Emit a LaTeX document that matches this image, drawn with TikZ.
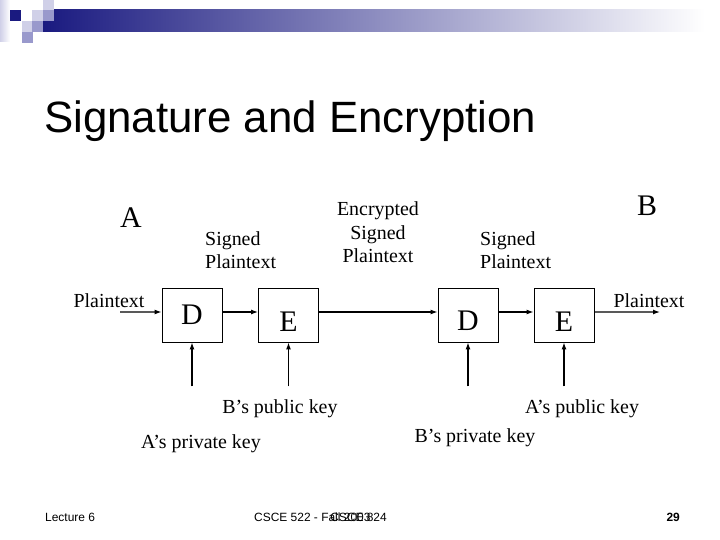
\documentclass[tikz,border=0pt]{standalone}
\usepackage{fontspec}
\setmainfont{Liberation Serif}
\setsansfont{Liberation Sans}
\usetikzlibrary{arrows.meta,positioning}
\definecolor{azulosc}{RGB}{26,26,128}
\definecolor{grismed}{RGB}{165,165,190}
\definecolor{lavmed}{RGB}{153,153,204}
\definecolor{lavcla}{RGB}{208,208,232}

\begin{document}
\begin{tikzpicture}[x=1bp,y=-1bp,
  caja/.style={draw, line width=0.8bp, minimum width=60bp, minimum height=54bp,
    inner sep=0pt, font=\fontsize{30}{30}\selectfont},
  bajo/.style={text height=32bp},
  etiq/.style={font=\fontsize{20}{23.5}\selectfont, inner sep=0pt},
  flecha/.style={line width=1.3bp, -{Latex[length=7bp,width=5bp]}},
  pie/.style={font=\sffamily\fontsize{12}{12}\selectfont, inner sep=0pt}]
\useasboundingbox (0,0) rectangle (720,540);
% Cabecera: barra degradada y cuadritos
\shade[left color=lavcla, right color=white] (0,0) rectangle (10,42);
\shade[left color=azulosc, middle color=grismed, right color=white] (43,10) rectangle (705,32);
\foreach \x/\y/\c in {43/0/lavcla, 10/10/azulosc, 32/10/lavcla, 43/10/lavmed,
                      22/21/lavcla, 32/21/lavmed, 22/32/lavmed} {
  \fill[\c] (\x,\y) rectangle ++(11,11);
}
% Titulo
\node[anchor=base west, inner sep=0pt, font=\sffamily\fontsize{44}{44}\selectfont]
  (titulo) at (44,133) {Signature and Encryption};
% Extremos A y B
\node[inner sep=0pt, font=\fontsize{30}{30}\selectfont] (ladoA) at (131,218) {A};
\node[inner sep=0pt, font=\fontsize{30}{30}\selectfont] (ladoB) at (647,206) {B};
% Cajas D / E
\node[caja]       (dA) at (192,315)   {D};
\node[caja, bajo] (eA) at (288.5,315) {E};
\node[caja, bajo] (dB) at (468,315)   {D};
\node[caja, bajo] (eB) at (564,315)   {E};
% Entrada y salida
\coordinate (entrada) at (120,312);
\coordinate (salida)  at (660,312);
\draw[flecha] (entrada) -- ([yshift=3bp]dA.west);
\draw[flecha] ([yshift=3bp]dA.east) -- ([yshift=3bp]eA.west);
\draw[flecha] ([yshift=3bp]eA.east) -- ([yshift=3bp]dB.west);
\draw[flecha] ([yshift=3bp]dB.east) -- ([yshift=3bp]eB.west);
\draw[flecha] ([yshift=3bp]eB.east) -- (salida);
% Claves (flechas desde abajo)
\foreach \c in {dA, eA, dB, eB} {
  \coordinate (k\c) at ([yshift=-44bp]\c.south);
  \draw[flecha] (k\c) -- (\c.south);
}
% Etiquetas de texto
\node[etiq, anchor=base] (txtIn)  at (109,307) {Plaintext};
\node[etiq, anchor=base] (txtOut) at (649,307) {Plaintext};
\node[etiq, anchor=north west, align=left] (firA) at (205,231.3) {Signed\\Plaintext};
\node[etiq, anchor=north west, align=left] (firB) at (480,231.3) {Signed\\Plaintext};
\node[etiq, anchor=north, align=center] (cifr) at (378,201.8) {Encrypted\\Signed\\Plaintext};
\node[etiq, anchor=base] (pubB)  at (280,413) {B’s public key};
\node[etiq, anchor=base] (privA) at (201,448) {A’s private key};
\node[etiq, anchor=base] (privB) at (475,442) {B’s private key};
\node[etiq, anchor=base] (pubA)  at (582,413) {A’s public key};
% Pie de pagina (textos superpuestos como en la diapositiva)
\node[pie, anchor=base west] (pieIzq) at (45,521) {Lecture 6};
\node[pie, anchor=base west] (pieCen) at (254,521) {CSCE 522 - Fall 2003};
\node[pie, anchor=base east] (pieCen2) at (387,521) {CSCE 824};
\node[pie, anchor=base east, font=\sffamily\bfseries\fontsize{12}{12}\selectfont] (pagina) at (680,521) {29};
\end{tikzpicture}
\end{document}
